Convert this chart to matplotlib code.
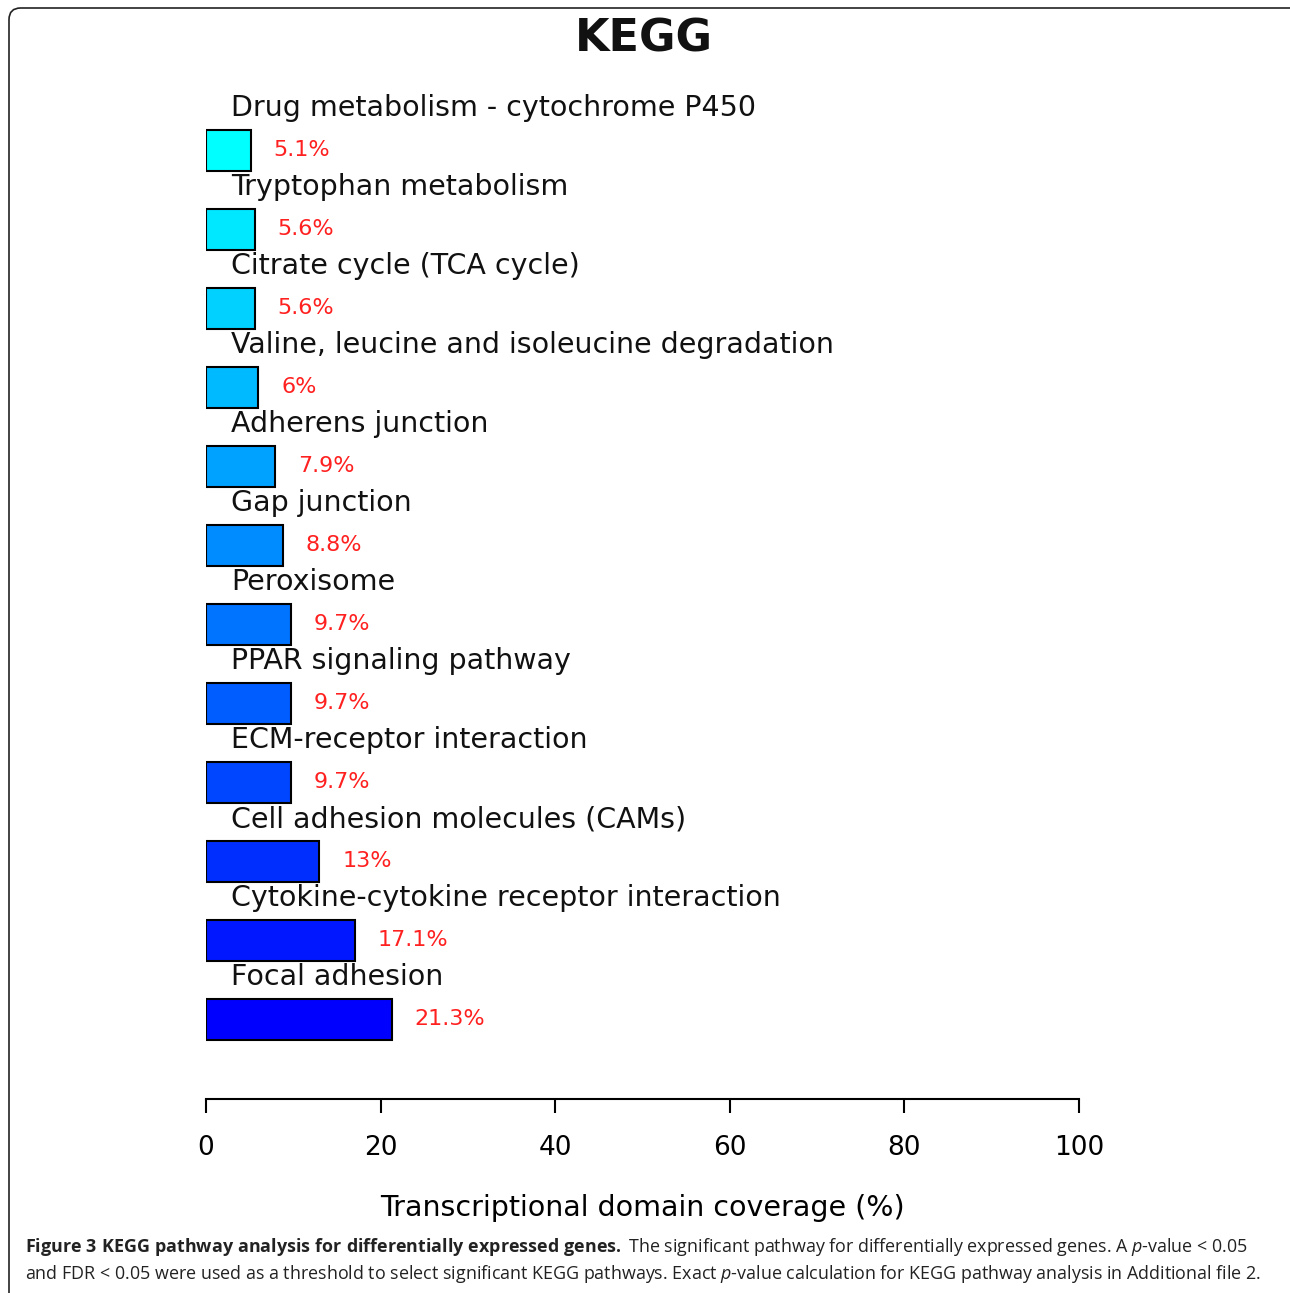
import matplotlib.pyplot as plt
from matplotlib.colors import LinearSegmentedColormap
from matplotlib.patches import FancyBboxPatch

# KEGG pathways, top to bottom as drawn
pathways = [
    'Drug metabolism - cytochrome P450',
    'Tryptophan metabolism',
    'Citrate cycle (TCA cycle)',
    'Valine, leucine and isoleucine degradation',
    'Adherens junction',
    'Gap junction',
    'Peroxisome',
    'PPAR signaling pathway',
    'ECM-receptor interaction',
    'Cell adhesion molecules (CAMs)',
    'Cytokine-cytokine receptor interaction',
    'Focal adhesion',
]
coverage = [5.1, 5.6, 5.6, 6, 7.9, 8.8, 9.7, 9.7, 9.7, 13, 17.1, 21.3]
pct_labels = ['5.1%', '5.6%', '5.6%', '6%', '7.9%', '8.8%', '9.7%', '9.7%', '9.7%', '13%', '17.1%', '21.3%']
xticks = [0, 20, 40, 60, 80, 100]

fig = plt.figure(figsize=(12.9, 12.93), dpi=100)

# rounded frame round the whole figure
top = 1 - 8 / 1293
frame = FancyBboxPatch((9 / 1290, -0.02), 1.05, top + 0.02,
                       boxstyle='round,pad=0,rounding_size=0.009',
                       transform=fig.transFigure, fill=False,
                       edgecolor='#222222', linewidth=1.2, clip_on=False)
fig.patches.append(frame)

ax = fig.add_axes([206 / 1290, 1 - 1099 / 1293, 873 / 1290, (1099 - 90) / 1293])

cmap = LinearSegmentedColormap.from_list('cyanblue', ['#00FFFF', '#0000FF'])
n = len(pathways)
colors = [cmap(i / (n - 1)) for i in range(n)]

ypos = list(range(n))
ax.barh(ypos, coverage, height=0.52, color=colors, edgecolor='black', linewidth=1.5)

for i, (name, val, lab) in enumerate(zip(pathways, coverage, pct_labels)):
    ax.text(2.85, i - 0.53, name, fontsize=20.5, va='center', ha='left', color='#111111')
    ax.text(val + 2.6, i, lab, fontsize=16, va='center', ha='left', color='#FF2020')

ax.set_xlim(0, 100)
ax.set_ylim(12.01, -0.76)
ax.set_xticks(xticks)
ax.set_yticks([])
for s in ['top', 'right', 'left']:
    ax.spines[s].set_visible(False)
ax.spines['bottom'].set_linewidth(1.5)
ax.tick_params(axis='x', length=10, width=1.5, pad=16, labelsize=19, direction='out')
ax.set_xlabel('Transcriptional domain coverage (%)', fontsize=20.5, labelpad=24)

fig.text(644 / 1290, 1 - 39 / 1293, 'KEGG', fontsize=32, fontweight='bold',
         ha='center', va='center', color='#111111')

# figure caption
plt.rcParams['mathtext.fontset'] = 'custom'
plt.rcParams['mathtext.rm'] = 'Open Sans'
plt.rcParams['mathtext.bf'] = 'Open Sans:bold'
plt.rcParams['mathtext.it'] = 'Open Sans:italic'
line1 = (r'$\mathbf{Figure\ 3\ KEGG\ pathway\ analysis\ for\ differentially\ expressed\ genes.}$'
         r' The significant pathway for differentially expressed genes. A $\mathit{p}$-value < 0.05')
line2 = (r'and FDR < 0.05 were used as a threshold to select significant KEGG pathways. Exact '
         r'$\mathit{p}$-value calculation for KEGG pathway analysis in Additional file 2.')
fig.text(25 / 1290, 1 - 1247 / 1293, line1, fontsize=12.9, family='Open Sans',
         ha='left', va='center', color='#222222')
fig.text(25 / 1290, 1 - 1274 / 1293, line2, fontsize=12.9, family='Open Sans',
         ha='left', va='center', color='#222222')

fig.savefig('out.png', dpi=100)
